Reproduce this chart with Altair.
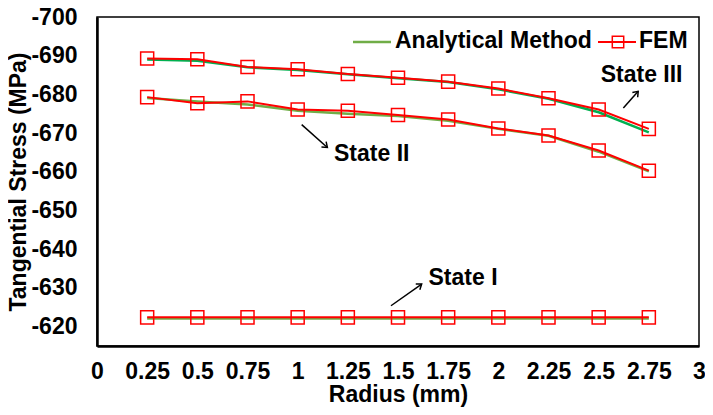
import altair as alt
import pandas as pd

radius = [0.25, 0.5, 0.75, 1.0, 1.25, 1.5, 1.75, 2.0, 2.25, 2.5, 2.75]

fem_state3 = [-689.3, -689.1, -687.1, -686.5, -685.3, -684.3, -683.3, -681.5, -679.0, -676.1, -671.1]
ana_state3 = [-689.0, -688.7, -687.0, -686.3, -685.2, -684.2, -683.2, -681.3, -678.9, -675.4, -670.2]
fem_state2 = [-679.3, -677.7, -678.2, -676.1, -675.8, -674.7, -673.5, -671.2, -669.4, -665.5, -660.3]
ana_state2 = [-679.1, -678.2, -677.4, -675.8, -675.0, -674.4, -673.2, -671.1, -669.3, -665.2, -660.1]
fem_state1 = [-622.4] * 11
ana_state1 = [-622.1] * 11

y_ticks = [-700, -690, -680, -670, -660, -650, -640, -630, -620]
x_ticks = [0, 0.25, 0.5, 0.75, 1, 1.25, 1.5, 1.75, 2, 2.25, 2.5, 2.75, 3]

ann_labels = ["State III", "State II", "State I"]
ann_text_x = [2.714, 1.369, 1.824]
ann_text_y = [-685.1, -664.7, -632.6]
arrow_tail_x = [2.623, 1.020, 1.465]
arrow_tail_y = [-676.5, -672.2, -625.4]
arrow_tip_x = [2.697, 1.148, 1.618]
arrow_tip_y = [-680.8, -666.3, -631.0]
arrow_angle = [312, 41, 325]

FONT = "Liberation Sans"
FS = 23
GREEN_DARK = "#00B050"
GREEN = "#70AD47"
RED = "#FF0000"

rows = []
for name, vals, method in [
    ("III", ana_state3, "Analytical"), ("II", ana_state2, "Analytical"), ("I", ana_state1, "Analytical"),
    ("III", fem_state3, "FEM"), ("II", fem_state2, "FEM"), ("I", fem_state1, "FEM"),
]:
    for r, v in zip(radius, vals):
        rows.append({"radius": r, "stress": v, "state": name, "method": method})
df = pd.DataFrame(rows)

xscale = alt.Scale(domain=[0, 3], nice=False, zero=False)
yscale = alt.Scale(domain=[-700, -615], nice=False, zero=False, reverse=True)

xenc = alt.X("radius:Q", scale=xscale,
             axis=alt.Axis(values=x_ticks, labelExpr="'' + datum.value",
                           title="Radius (mm)", labelPadding=14, titlePadding=0))
yenc = alt.Y("stress:Q", scale=yscale,
             axis=alt.Axis(values=y_ticks, labelExpr="'' + datum.value",
                           title="Tangential Stress (MPa)", labelPadding=20, titlePadding=0))

base = alt.Chart(df)

ana_lines = base.transform_filter(alt.datum.method == "Analytical").mark_line(strokeWidth=2.5).encode(
    x=xenc, y=yenc, detail="state:N",
    color=alt.Color("state:N", scale=alt.Scale(domain=["III", "II", "I"],
                                                range=[GREEN_DARK, GREEN, GREEN]), legend=None),
)
fem_lines = base.transform_filter(alt.datum.method == "FEM").mark_line(strokeWidth=2, color=RED).encode(
    x=xenc, y=yenc, detail="state:N",
)
fem_points = base.transform_filter(alt.datum.method == "FEM").mark_point(
    shape="square", size=170, color=RED, strokeWidth=1.5, filled=False, opacity=1
).encode(x=xenc, y=yenc)

ann_df = pd.DataFrame({"label": ann_labels, "tx": ann_text_x, "ty": ann_text_y,
                       "x1": arrow_tail_x, "y1": arrow_tail_y,
                       "x2": arrow_tip_x, "y2": arrow_tip_y, "angle": arrow_angle})
ann = alt.Chart(ann_df)
ann_text = ann.mark_text(font=FONT, fontWeight="bold", fontSize=FS, color="black").encode(
    x=alt.X("tx:Q", scale=xscale), y=alt.Y("ty:Q", scale=yscale), text="label:N")
ann_shaft = ann.mark_rule(color="black", strokeWidth=1.5).encode(
    x=alt.X("x1:Q", scale=xscale), y=alt.Y("y1:Q", scale=yscale),
    x2="x2:Q", y2="y2:Q")
ann_head = ann.mark_point(shape="M-1,-0.75L0,0L-1,0.75", size=90, filled=False,
                          color="black", strokeWidth=1.5, opacity=1).encode(
    x=alt.X("x2:Q", scale=xscale), y=alt.Y("y2:Q", scale=yscale), angle=alt.Angle("angle:Q", scale=None))

# manual legend
one = alt.Chart(pd.DataFrame({"a": [0]}))
leg_line1 = one.mark_rule(color=GREEN, strokeWidth=2.5).encode(
    x=alt.value(256), x2=alt.value(294), y=alt.value(25))
leg_text1 = one.mark_text(font=FONT, fontWeight="bold", fontSize=FS, align="left",
                          baseline="middle", text="Analytical Method").encode(
    x=alt.value(298), y=alt.value(24))
leg_line2 = one.mark_rule(color=RED, strokeWidth=2).encode(
    x=alt.value(501), x2=alt.value(539), y=alt.value(25))
leg_sq = one.mark_point(shape="square", size=130, color=RED, filled=False, strokeWidth=1.5,
                        opacity=1).encode(x=alt.value(521), y=alt.value(25))
leg_text2 = one.mark_text(font=FONT, fontWeight="bold", fontSize=FS, align="left",
                          baseline="middle", text="FEM").encode(
    x=alt.value(542), y=alt.value(24))

chart = alt.layer(
    ana_lines, fem_lines, fem_points, ann_shaft, ann_head, ann_text,
    leg_line1, leg_text1, leg_line2, leg_sq, leg_text2,
).properties(
    width=602, height=329,
    autosize=alt.AutoSizeParams(type="none"),
    padding={"left": 89, "top": 9, "right": 6, "bottom": 61},
).configure_view(
    stroke="black", strokeWidth=1.5
).configure_axis(
    grid=False, ticks=False, tickSize=0, domainColor="black", domainWidth=2.5,
    labelFont=FONT, labelFontSize=FS, labelFontWeight="bold", labelColor="black",
    titleFont=FONT, titleFontSize=FS, titleFontWeight="bold", titleColor="black",
    labelFlush=False, labelOverlap=False,
)

chart.save("out.html", embed_options={"renderer": "svg", "actions": False})
